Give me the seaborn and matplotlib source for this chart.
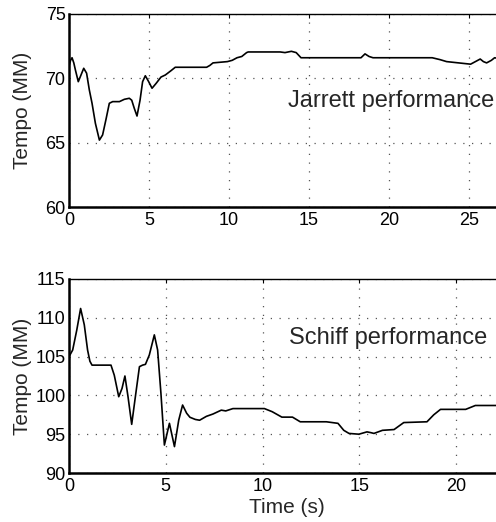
import matplotlib
matplotlib.use("Agg")
import matplotlib.pyplot as plt
import seaborn as sns
import pandas as pd

# Jarrett performance (time s, tempo MM)
jarrett_t = [0.0, 0.1, 0.19, 0.3, 0.4, 0.58, 0.75, 0.92, 1.1, 1.27, 1.44, 1.65, 1.9, 2.1, 2.31, 2.52, 2.73, 3.15,
             3.46, 3.77, 3.92, 4.08, 4.25, 4.44, 4.6, 4.77, 4.98, 5.19, 5.44, 5.75, 6.02, 6.38, 6.64, 6.8, 8.6, 8.8,
             9.0, 9.9, 10.2, 10.5, 10.8, 11.1, 11.2, 13.2, 13.5, 13.9, 14.2, 14.5, 18.25, 18.5, 18.75, 19.0, 22.3,
             22.7, 23.2, 23.6, 25.1, 25.4, 25.7, 25.9, 26.1, 26.4, 26.6, 27.0]
jarrett_v = [70.95, 71.4, 71.6, 71.2, 70.65, 69.74, 70.26, 70.78, 70.4, 69.1, 68.06, 66.5, 65.2, 65.6, 66.8, 68.06,
             68.19, 68.19, 68.37, 68.45, 68.3, 67.67, 67.07, 68.3, 69.74, 70.2, 69.74, 69.23, 69.6, 70.1, 70.26, 70.6,
             70.86, 70.86, 70.86, 71.0, 71.2, 71.3, 71.4, 71.6, 71.7, 72.0, 72.05, 72.05, 72.0, 72.1, 72.0, 71.6,
             71.6, 71.9, 71.7, 71.6, 71.6, 71.6, 71.45, 71.3, 71.1, 71.3, 71.5, 71.3, 71.2, 71.4, 71.6, 71.5]

# Schiff performance (time s, tempo MM)
schiff_t = [0.0, 0.19, 0.4, 0.6, 0.79, 0.96, 1.08, 1.19, 2.17, 2.34, 2.57, 2.74, 2.89, 3.05, 3.24, 3.43, 3.64, 3.8,
            3.95, 4.15, 4.41, 4.58, 4.75, 4.93, 5.19, 5.45, 5.67, 5.87, 6.08, 6.25, 6.53, 6.75, 7.1, 7.44, 7.87, 8.1,
            8.47, 10.1, 10.5, 11.0, 11.55, 11.95, 13.3, 13.9, 14.2, 14.47, 14.98, 15.4, 15.6, 15.76, 16.2, 16.8,
            17.3, 18.5, 18.85, 19.2, 20.5, 21.0, 22.5]
schiff_v = [104.99, 105.85, 108.4, 111.2, 109.1, 105.85, 104.4, 103.9, 103.9, 102.6, 99.83, 100.9, 102.5, 99.83,
            96.27, 99.83, 103.7, 103.9, 104.0, 105.2, 107.8, 105.85, 100.3, 93.6, 96.4, 93.4, 96.8, 98.76, 97.7,
            97.18, 96.9, 96.8, 97.3, 97.6, 98.1, 98.0, 98.3, 98.3, 97.9, 97.2, 97.2, 96.6, 96.6, 96.4, 95.5, 95.1,
            95.0, 95.3, 95.2, 95.1, 95.5, 95.6, 96.5, 96.6, 97.5, 98.2, 98.2, 98.7, 98.7]

labels = ["Jarrett performance", "Schiff performance"]
x_ticks_top = [0, 5, 10, 15, 20, 25]
y_ticks_top = [60, 65, 70, 75]
x_ticks_bot = [0, 5, 10, 15, 20]
y_ticks_bot = [90, 95, 100, 105, 110, 115]

sns.set_theme(style="white")
plt.rcParams["font.family"] = ["Liberation Sans", "DejaVu Sans"]

fig = plt.figure(figsize=(4.96, 5.22), dpi=100)
W, H = 496, 522
ax1 = fig.add_axes([69 / W, 1 - 207 / H, 27 * 16 / W, 193 / H])
ax2 = fig.add_axes([69 / W, 1 - 473 / H, 22.5 * 19.35 / W, 194 / H])

df1 = pd.DataFrame({"t": jarrett_t, "v": jarrett_v})
df2 = pd.DataFrame({"t": schiff_t, "v": schiff_v})

specs = [
    (ax1, df1, (0, 27), (60, 75), x_ticks_top, y_ticks_top, 432),
    (ax2, df2, (0, 22.5), (90, 115), x_ticks_bot, y_ticks_bot, 435),
]
for ax, df, xl, yl, xt, yt, wpx in specs:
    sns.lineplot(data=df, x="t", y="v", ax=ax, color="black", linewidth=1.2)
    ax.set_xlim(*xl)
    ax.set_ylim(*yl)
    ax.set_xticks(xt)
    ax.set_yticks(yt)
    ax.set_xticklabels([str(v) for v in xt])
    ax.set_yticklabels([str(v) for v in yt])
    ax.grid(True, color="#555555", linestyle=(0, (1, 6)), linewidth=0.9)
    ax.tick_params(direction="in", length=3, width=0.8, labelsize=13, colors="black",
                   top=True, right=False)
    ax.tick_params(axis="x", pad=3.5)
    ax.tick_params(axis="y", pad=2.5)
    for s in ["left", "bottom"]:
        ax.spines[s].set_linewidth(1.8)
        ax.spines[s].set_color("black")
    ax.spines["top"].set_linewidth(1.0)
    ax.spines["top"].set_color("black")
    ax.spines["right"].set_visible(False)
    ax.set_ylabel("Tempo (MM)", fontsize=15)
    ax.yaxis.set_label_coords((32 - 69) / wpx, 0.5)
    ax.set_xlabel("")

ax1.text(494 / W, 1 - 101 / H, labels[0], transform=fig.transFigure, ha="right", va="center", fontsize=17)
ax2.text(487 / W, 1 - 338 / H, labels[1], transform=fig.transFigure, ha="right", va="center", fontsize=17)
ax2.set_xlabel("Time (s)", fontsize=15, labelpad=2)

fig.savefig("out.png", dpi=100)
